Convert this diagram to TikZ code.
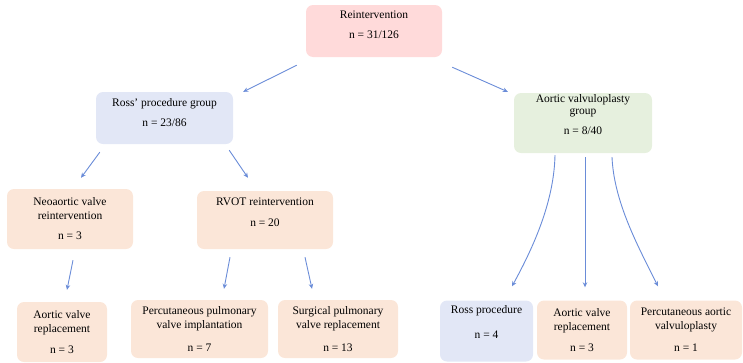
\documentclass[tikz,border=0pt]{standalone}
\usepackage{fontspec}
\setmainfont{Liberation Serif}
\usetikzlibrary{arrows.meta,calc}
\definecolor{reintpink}{HTML}{FFDADA}
\definecolor{rossblue}{HTML}{E2E7F6}
\definecolor{avgreen}{HTML}{E6F0DE}
\definecolor{peach}{HTML}{FBE6D8}
\definecolor{arrowblue}{HTML}{6A8CD8}
\tikzset{
  box/.style={rounded corners=7pt, inner sep=0pt, align=center,
    font=\fontsize{11.5}{14}\selectfont, text=black},
  arr/.style={-{Stealth[length=5pt,width=4.5pt]}, draw=arrowblue, line width=0.9pt},
}
\begin{document}
\begin{tikzpicture}[x=1pt,y=-1pt]
      \useasboundingbox (0,0) rectangle (743,362);

      % top level
      \node[box, fill=reintpink, minimum width=136pt, minimum height=52pt, text depth=13pt] (reint) at (374,31) {Reintervention\\[6pt]n = 31/126};

      % groups
      \node[box, fill=rossblue, minimum width=137pt, minimum height=52pt, text depth=11pt] (ross) at (164.5,118) {Ross’ procedure group\\[6pt]n = 23/86};
      \node[box, fill=avgreen, minimum width=138pt, minimum height=60pt, text depth=17pt] (avg) at (583,123) {Aortic valvuloplasty\\[-2pt]group\\[6pt]n = 8/40};

      % second level
      \node[box, fill=peach, minimum width=126pt, minimum height=60pt] (neo) at (70,219) {Neoaortic valve\\reintervention\\[6pt]n = 3};
      \node[box, fill=peach, minimum width=136pt, minimum height=58pt, text depth=16pt] (rvot) at (265,220) {RVOT reintervention\\[7pt]n = 20};

      % bottom row
      \node[box, fill=peach, minimum width=90pt, minimum height=60pt] (avr1) at (62,332) {Aortic valve\\replacement\\[7pt]n = 3};
      \node[box, fill=peach, minimum width=137pt, minimum height=58pt] (ppvi) at (199.5,329) {Percutaneous pulmonary\\valve implantation\\[9pt]n = 7};
      \node[box, fill=peach, minimum width=120pt, minimum height=58pt] (spvr) at (338,329) {Surgical pulmonary\\valve replacement\\[9pt]n = 13};
      \node[box, fill=rossblue, minimum width=93pt, minimum height=61pt, text depth=18pt] (rossp) at (486.5,331) {Ross procedure\\[11pt]n = 4};
      \node[box, fill=peach, minimum width=90pt, minimum height=59pt] (avr2) at (582,330) {Aortic valve\\replacement\\[7pt]n = 3};
      \node[box, fill=peach, minimum width=112pt, minimum height=59pt] (pav) at (686,330) {Percutaneous aortic\\valvuloplasty\\[8pt]n = 1};

      % arrows
      \draw [arr] ($(reint.south west)+(-9,8)$) -- ($(ross.north east)+(10,0)$);
      \draw [arr] ($(reint.south east)+(10,10)$) -- ($(avg.north west)+(-6,-1)$);
      \draw [arr] ($(ross.south west)+(4,8)$) -- ($(neo.north)+(11,-11)$);
      \draw [arr] ($(ross.south east)+(-4,6)$) -- ($(rvot.north)+(-17,-13)$);
      \draw [arr] ($(neo.south)+(3,11)$) -- ($(avr1.north)+(5,-12)$);
      \draw [arr] ($(rvot.south)+(-35,8)$) -- ($(ppvi.north)+(24.5,-11)$);
      \draw [arr] ($(rvot.south)+(40,8)$) -- ($(spvr.north)+(-26,-11)$);
      \draw [arr] ($(avg.south)+(-28,2)$) .. controls +(-1,45) and +(23,-42) .. ($(rossp.north)+(25.5,-14)$);
      \draw [arr] ($(avg.south)+(2,4)$) -- ($(avr2.north)+(3,-13)$);
      \draw [arr] ($(avg.south)+(29,4)$) .. controls +(2,45) and +(-20,-40) .. ($(pav.north)+(-28,-14)$);
    \end{tikzpicture}
\end{document}
